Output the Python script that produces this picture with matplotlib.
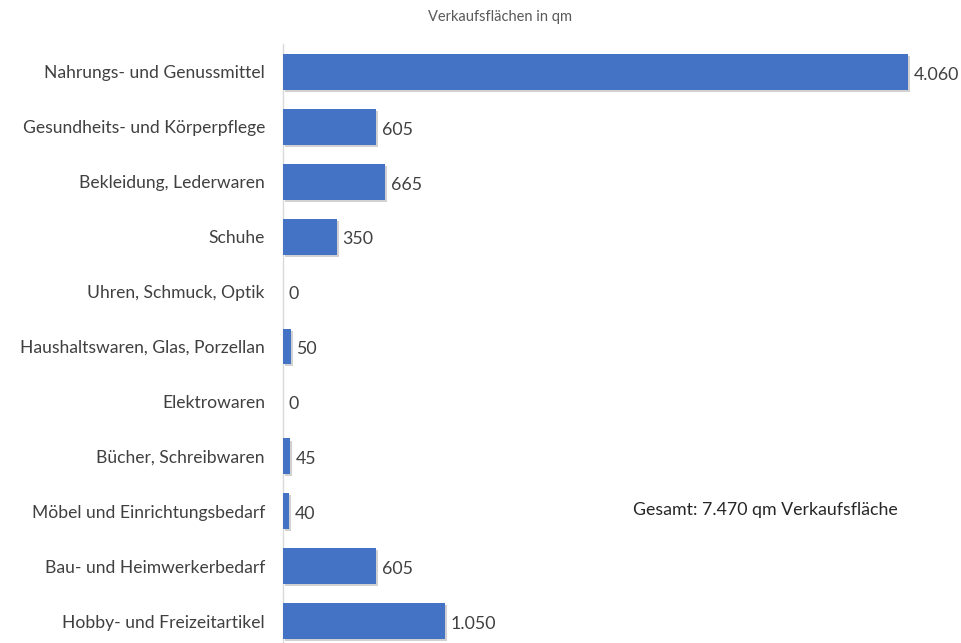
import matplotlib.pyplot as plt
import matplotlib.patheffects as pe

# data
categories = ["Nahrungs- und Genussmittel", "Gesundheits- und Körperpflege",
              "Bekleidung, Lederwaren", "Schuhe", "Uhren, Schmuck, Optik",
              "Haushaltswaren, Glas, Porzellan", "Elektrowaren",
              "Bücher, Schreibwaren", "Möbel und Einrichtungsbedarf",
              "Bau- und Heimwerkerbedarf", "Hobby- und Freizeitartikel"]
values = [4060, 605, 665, 350, 0, 50, 0, 45, 40, 605, 1050]
value_labels = ["4.060", "605", "665", "350", "0", "50", "0", "45", "40", "605", "1.050"]

plt.rcParams['font.family'] = ['Lato', 'DejaVu Sans']

fig = plt.figure(figsize=(9.62, 6.43), dpi=100)
ax = fig.add_axes([283 / 962, 0.0, 660 / 962, 1 - 44.5 / 643])

pos = list(range(len(categories)))
bars = ax.barh(pos, values, height=0.65, color="#4472C4", zorder=3)
for b in bars:
    b.set_path_effects([pe.SimplePatchShadow(offset=(1.5, -1.5), shadow_rgbFace="#8c8c8c", alpha=0.4),
                        pe.Normal()])

ax.set_xlim(0, 4288)
ax.set_ylim(10.4, -0.5)
ax.set_yticks(pos)
ax.set_yticklabels(categories, fontsize=12.6, color="#404040")
ax.tick_params(axis='y', length=0, pad=13)
ax.set_xticks([])

for s in ["top", "right", "bottom"]:
    ax.spines[s].set_visible(False)
ax.spines["left"].set_color("#d9d9d9")
ax.spines["left"].set_linewidth(1)

for p, v, lab in zip(pos, values, value_labels):
    ax.annotate(lab, (v, p), xytext=(4, -2), textcoords="offset points",
                ha="left", va="center", fontsize=12.8, color="#404040")

fig.text(500 / 962, 1 - 17 / 643, "Verkaufsflächen in qm", ha="center", va="center",
         fontsize=10.5, color="#595959")
fig.text(633 / 962, 1 - 510 / 643, "Gesamt: 7.470 qm Verkaufsfläche", ha="left", va="center",
         fontsize=12.8, color="#262626")

fig.savefig("out.png", dpi=100)
